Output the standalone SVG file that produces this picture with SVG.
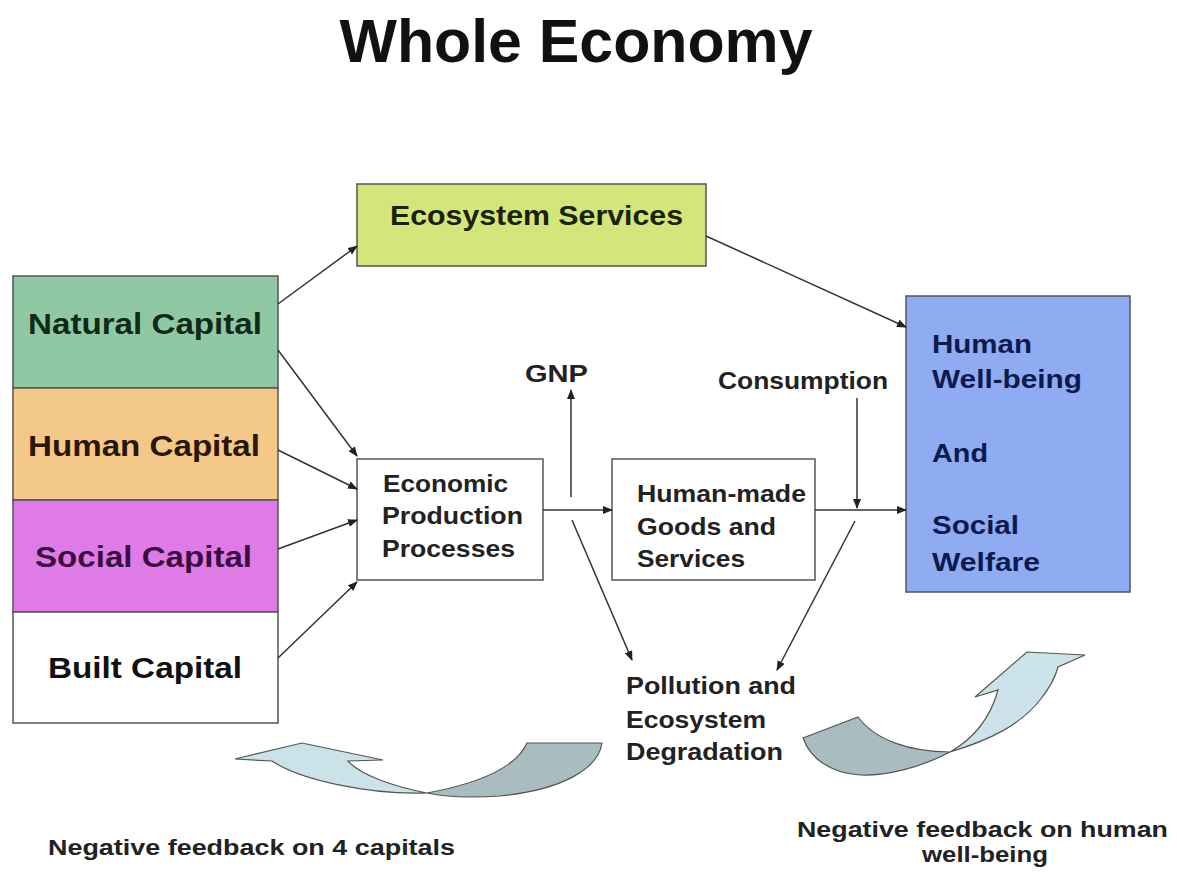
<svg xmlns="http://www.w3.org/2000/svg" width="1177" height="873" viewBox="0 0 1177 873">
<defs>
<style>
.t{font-family:"Liberation Sans",Arial,sans-serif;font-weight:bold;}
.box{stroke:#555;stroke-width:1.5;}
.con{stroke:#333;stroke-width:1.5;fill:none;}
.curve{stroke:#555;stroke-width:1.2;}
</style>
<marker id="ah" markerWidth="10" markerHeight="8" refX="9" refY="4" orient="auto" markerUnits="userSpaceOnUse">
<path d="M0,0 L10,4 L0,8 Z" fill="#222"/>
</marker>
</defs>
<rect width="1177" height="873" fill="#fff"/>
<text class="t" x="576" y="62" font-size="61" text-anchor="middle" textLength="473" lengthAdjust="spacingAndGlyphs" fill="#111">Whole Economy</text>

<g id="natural-capital">
<rect class="box" x="13" y="276" width="265" height="112" fill="#8fc8a3"/>
<text class="t" x="28" y="334" font-size="29" textLength="234" lengthAdjust="spacingAndGlyphs" fill="#0f2a18">Natural Capital</text>
</g>
<g id="human-capital">
<rect class="box" x="13" y="388" width="265" height="112" fill="#f4c888"/>
<text class="t" x="28" y="456" font-size="29" textLength="232" lengthAdjust="spacingAndGlyphs" fill="#2a1606">Human Capital</text>
</g>
<g id="social-capital">
<rect class="box" x="13" y="500" width="265" height="112" fill="#df7be6"/>
<text class="t" x="35" y="567" font-size="29" textLength="217" lengthAdjust="spacingAndGlyphs" fill="#3a0a42">Social Capital</text>
</g>
<g id="built-capital">
<rect class="box" x="13" y="612" width="265" height="111" fill="#fff"/>
<text class="t" x="48" y="678" font-size="29" textLength="194" lengthAdjust="spacingAndGlyphs" fill="#111">Built Capital</text>
</g>

<g id="ecosystem-services">
<rect class="box" x="357" y="184" width="349" height="82" fill="#d4e67b"/>
<text class="t" x="390" y="225" font-size="28" textLength="293" lengthAdjust="spacingAndGlyphs" fill="#1a2208">Ecosystem Services</text>
</g>

<g id="human-wellbeing">
<rect class="box" x="906" y="296" width="224" height="296" fill="#8fabf2"/>
<g class="t" font-size="25" fill="#0c1a4e">
<text x="932" y="353" textLength="100" lengthAdjust="spacingAndGlyphs">Human</text>
<text x="932" y="388" textLength="150" lengthAdjust="spacingAndGlyphs">Well-being</text>
<text x="932" y="462" textLength="56" lengthAdjust="spacingAndGlyphs">And</text>
<text x="932" y="534" textLength="87" lengthAdjust="spacingAndGlyphs">Social</text>
<text x="932" y="571" textLength="108" lengthAdjust="spacingAndGlyphs">Welfare</text>
</g>
</g>

<g id="economic-production">
<rect class="box" x="357" y="459" width="186" height="121" fill="#fff"/>
<g class="t" font-size="23" fill="#222">
<text x="383" y="492" textLength="125" lengthAdjust="spacingAndGlyphs">Economic</text>
<text x="382" y="524" textLength="141" lengthAdjust="spacingAndGlyphs">Production</text>
<text x="382" y="557" textLength="133" lengthAdjust="spacingAndGlyphs">Processes</text>
</g>
</g>

<g id="human-made-goods">
<rect class="box" x="612" y="459" width="203" height="121" fill="#fff"/>
<g class="t" font-size="23" fill="#222">
<text x="637" y="502" textLength="169" lengthAdjust="spacingAndGlyphs">Human-made</text>
<text x="637" y="535" textLength="139" lengthAdjust="spacingAndGlyphs">Goods and</text>
<text x="637" y="567" textLength="108" lengthAdjust="spacingAndGlyphs">Services</text>
</g>
</g>

<g id="gnp">
<text class="t" x="525" y="382" font-size="23" textLength="63" lengthAdjust="spacingAndGlyphs" fill="#222">GNP</text>
</g>
<g id="consumption">
<text class="t" x="718" y="389" font-size="23" textLength="170" lengthAdjust="spacingAndGlyphs" fill="#222">Consumption</text>
</g>

<g id="pollution">
<g class="t" font-size="23" fill="#222">
<text x="626" y="694" textLength="170" lengthAdjust="spacingAndGlyphs">Pollution and</text>
<text x="626" y="728" textLength="140" lengthAdjust="spacingAndGlyphs">Ecosystem</text>
<text x="626" y="760" textLength="157" lengthAdjust="spacingAndGlyphs">Degradation</text>
</g>
</g>

<g id="connectors">
<line class="con" x1="278" y1="304" x2="357" y2="246" marker-end="url(#ah)"/>
<line class="con" x1="706" y1="236" x2="906" y2="327" marker-end="url(#ah)"/>
<line class="con" x1="278" y1="350" x2="357" y2="456" marker-end="url(#ah)"/>
<line class="con" x1="278" y1="450" x2="357" y2="489" marker-end="url(#ah)"/>
<line class="con" x1="278" y1="549" x2="357" y2="520" marker-end="url(#ah)"/>
<line class="con" x1="278" y1="658" x2="357" y2="582" marker-end="url(#ah)"/>
<line class="con" x1="543" y1="510" x2="612" y2="510" marker-end="url(#ah)"/>
<line class="con" x1="571" y1="497" x2="571" y2="390" marker-end="url(#ah)"/>
<line class="con" x1="815" y1="510" x2="906" y2="510" marker-end="url(#ah)"/>
<line class="con" x1="857" y1="398" x2="857" y2="508" marker-end="url(#ah)"/>
<line class="con" x1="572" y1="520" x2="632" y2="660" marker-end="url(#ah)"/>
<line class="con" x1="855" y1="521" x2="777" y2="670" marker-end="url(#ah)"/>
</g>

<g id="feedback-capitals">
<path class="curve" fill="#a9bdc1" d="M427,793 C470,785 515,770 527,743 L602,743 C598,770 560,790 500,796 C470,798 445,797 427,793 Z"/>
<path class="curve" fill="#cbe2e8" d="M427,793 C395,787 360,775 348,761 L383,760 L302,743 L235,759 L272,761 C300,780 370,795 427,793 Z"/>
<text class="t" x="48" y="855" font-size="22" textLength="407" lengthAdjust="spacingAndGlyphs" fill="#222">Negative feedback on 4 capitals</text>
</g>

<g id="feedback-wellbeing">
<path class="curve" fill="#a9bdc1" d="M803,738 L858,717 C875,740 910,752 950,752 C920,768 885,776 860,775 C830,773 810,758 803,738 Z"/>
<path class="curve" fill="#cbe2e8" d="M950,752 C990,740 1020,725 1040,700 C1052,685 1056,675 1058,667 L1085,655 L1027,652 L975,697 L998,690 C992,712 980,735 950,752 Z"/>
<text class="t" x="797" y="837" font-size="22" textLength="371" lengthAdjust="spacingAndGlyphs" fill="#222">Negative feedback on human</text>
<text class="t" x="922" y="862" font-size="22" textLength="126" lengthAdjust="spacingAndGlyphs" fill="#222">well-being</text>
</g>
</svg>
